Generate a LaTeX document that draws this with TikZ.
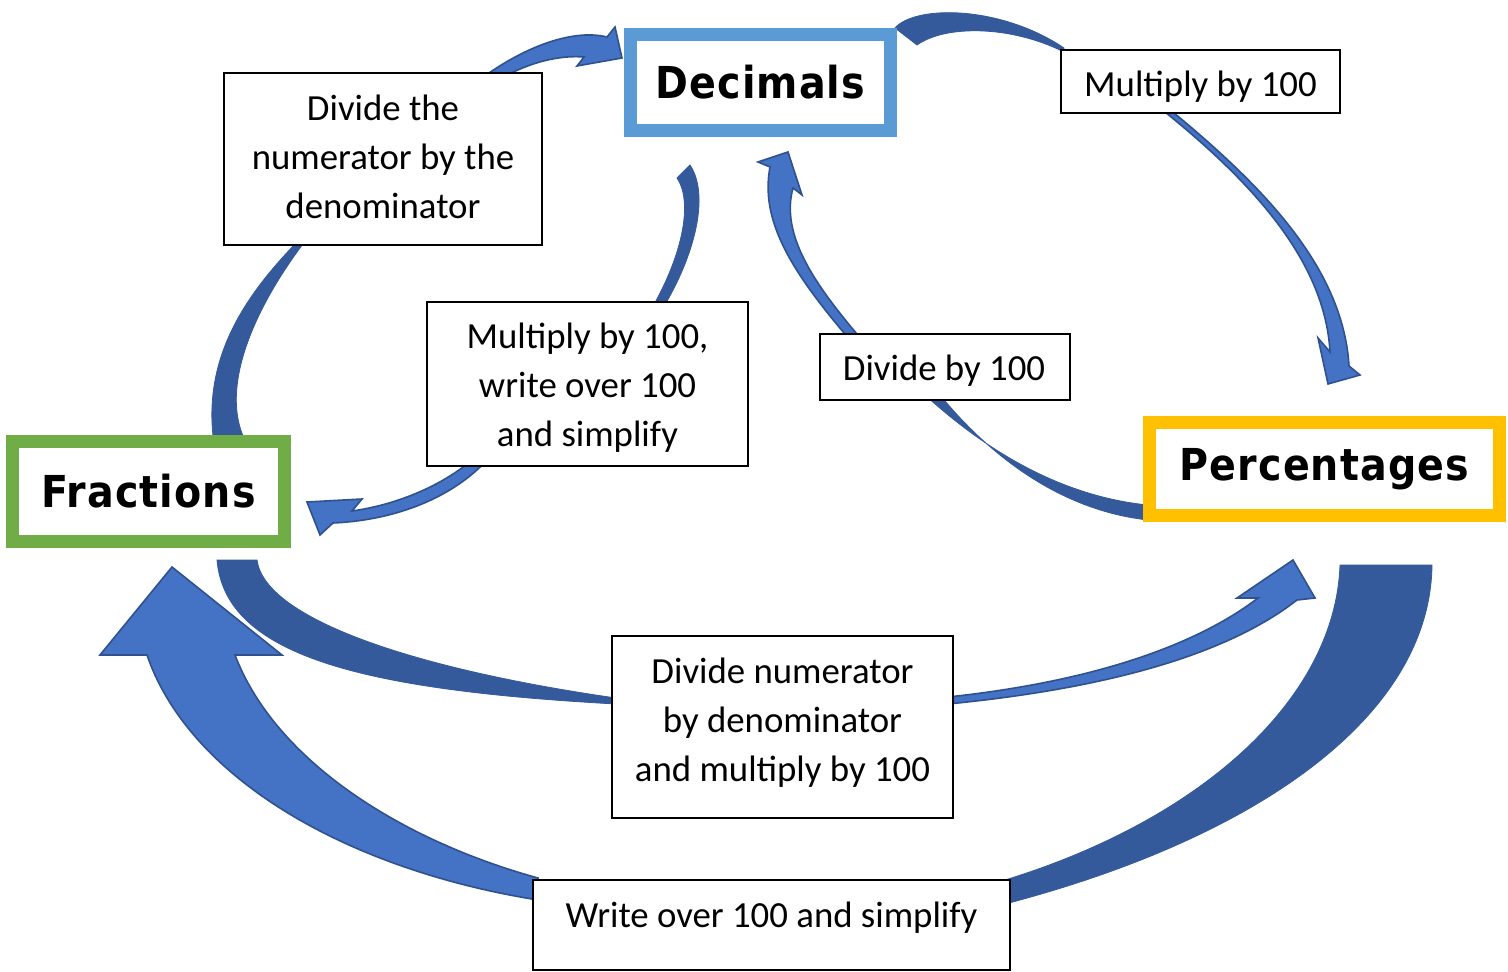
\documentclass[tikz,border=0pt]{standalone}
\usepackage{fontspec}
\setmainfont{Carlito}
\newfontfamily\titlefont{DejaVu Sans Condensed}[BoldFont=* Bold, LetterSpace=2.5]
\definecolor{facec}{RGB}{68,114,196}
\definecolor{edgec}{RGB}{47,82,143}
\definecolor{backc}{RGB}{52,90,155}
\definecolor{decc}{RGB}{91,155,213}
\definecolor{fracc}{RGB}{112,173,71}
\definecolor{percc}{RGB}{255,192,0}
\tikzset{
  face/.style={fill=facec, draw=edgec, line width=0.8pt, line join=miter},
  back/.style={fill=backc, draw=backc, line width=0.4pt},
  lblbox/.style={draw=black, fill=white, line width=0.9pt, inner sep=0pt},
  lbltext/.style={align=center, inner sep=0pt, font=\fontsize{18.4}{24.5}\selectfont},
  titlebox/.style={fill=white, line width=6.5pt, inner sep=0pt,
    font=\titlefont\bfseries\fontsize{22}{26}\selectfont},
}
\begin{document}
\begin{tikzpicture}[x=0.5pt,y=-0.5pt]
\useasboundingbox (0,0) rectangle (1508,972);
\fill[white] (0,0) rectangle (1508,972);

% ---------- Arrow A: Fractions -> Decimals ----------
\path[back] (213,436) .. controls (205,360) and (240,300) .. (299,240)
  -- (306,240) .. controls (260,300) and (220,380) .. (243,436) -- cycle;
\path[face] (482,78) .. controls (520,50) and (570,28) .. (607,37)
  -- (615,27) -- (622,58) -- (577,66) -- (584,57)
  .. controls (560,55) and (530,62) .. (502,78) -- cycle;

% ---------- Arrow B: Decimals -> Percentages ----------
\path[back] (895,28) .. controls (915,5) and (1000,5) .. (1064,48)
  -- (1064,52) .. controls (1010,25) and (945,25) .. (917,45) -- cycle;
\path[face] (1160,108) .. controls (1250,180) and (1325,260) .. (1330,352)
  -- (1318,338) -- (1328,384) -- (1360,375) -- (1349,366)
  .. controls (1343,265) and (1258,182) .. (1168,108) -- cycle;

% ---------- Arrow C: Decimals -> Fractions ----------
\path[back] (677,178) .. controls (692,200) and (685,250) .. (652,308)
  -- (663,308) .. controls (695,255) and (710,195) .. (690,165) -- cycle;
\path[face] (472,460) .. controls (440,487) and (395,505) .. (352,511)
  -- (362,499) -- (307,502) -- (320,535) -- (333,523)
  .. controls (400,520) and (455,495) .. (487,460) -- cycle;

% ---------- Arrow D: Percentages -> Decimals ----------
\path[back] (925,395) .. controls (980,445) and (1060,500) .. (1160,506)
  -- (1160,521) .. controls (1060,515) and (985,450) .. (940,395) -- cycle;
\path[face] (850,340) .. controls (790,270) and (760,220) .. (770,167)
  -- (758,162) -- (788,152) -- (802,195) -- (793,188)
  .. controls (780,235) and (815,285) .. (862,340) -- cycle;

% ---------- Arrow E: Fractions -> Percentages ----------
\path[back] (217,560) .. controls (225,655) and (360,690) .. (616,704)
  -- (616,698) .. controls (420,670) and (265,620) .. (257,560) -- cycle;
\path[face] (948,697) .. controls (1080,683) and (1190,650) .. (1258,598)
  -- (1237,598) -- (1293,560) -- (1315,598) -- (1297,600)
  .. controls (1220,660) and (1090,690) .. (948,704) -- cycle;

% ---------- Arrow F: Percentages -> Fractions ----------
\path[back] (1340,565) .. controls (1335,700) and (1200,820) .. (1005,880)
  -- (1005,904) .. controls (1250,840) and (1430,720) .. (1432,565) -- cycle;
\path[face] (538,900) .. controls (350,870) and (190,780) .. (147,655)
  -- (100,655) -- (172,567) -- (282,655) -- (235,655)
  .. controls (275,760) and (400,840) .. (538,878) -- cycle;

% ---------- Title boxes ----------
\node[titlebox, draw=decc, minimum width=130pt, minimum height=48pt] (dec) at (760.5,82.5) {Decimals};
\node[titlebox, draw=fracc, minimum width=136pt, minimum height=50pt] (frac) at (148.5,491.5) {Fractions};
\node[titlebox, draw=percc, minimum width=175pt, minimum height=46.5pt] (perc) at (1324.5,469) {Percentages};

% ---------- Label boxes ----------
\node[lblbox, minimum width=159pt, minimum height=86pt] (l1) at (383,159) {};
\node[lbltext] (t1) at (383,157) {Divide the\\numerator by the\\denominator};
\node[lblbox, minimum width=139.5pt, minimum height=31.5pt] (l2) at (1200.5,81.5) {};
\node[lbltext] (t2) at (1200.5,86.5) {Multiply by 100};
\node[lblbox, minimum width=160.5pt, minimum height=82pt] (l3) at (587.5,384) {};
\node[lbltext] (t3) at (587.5,388) {Multiply by 100,\\write over 100\\and simplify};
\node[lblbox, minimum width=125pt, minimum height=33pt] (l4) at (945,367) {};
\node[lbltext] (t4) at (944,371) {Divide by 100};
\node[lblbox, minimum width=170.5pt, minimum height=91pt] (l5) at (782.5,727) {};
\node[lbltext] (t5) at (782.5,723) {Divide numerator\\by denominator\\and multiply by 100};
\node[lblbox, minimum width=238.5pt, minimum height=45pt] (l6) at (771.5,925) {};
\node[lbltext] (t6) at (771.5,918) {Write over 100 and simplify};
\end{tikzpicture}
\end{document}
